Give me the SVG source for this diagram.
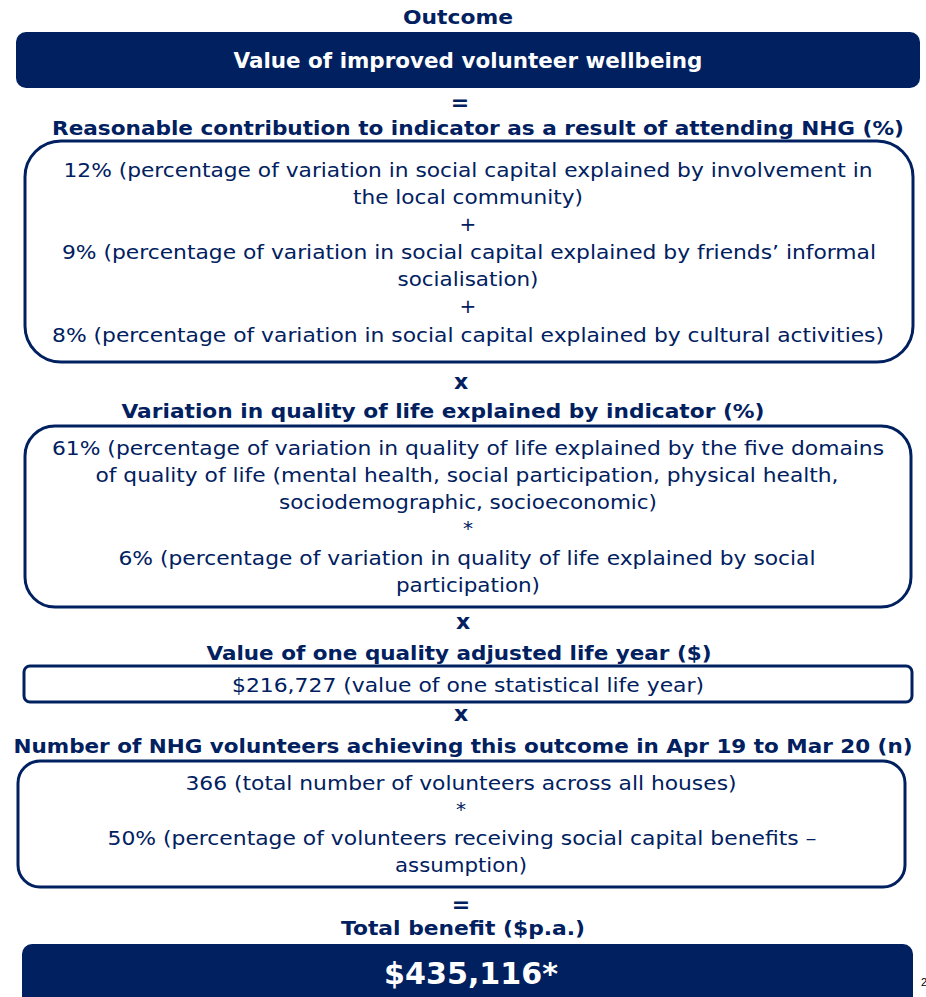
<svg xmlns="http://www.w3.org/2000/svg" width="926" height="997" viewBox="0 0 926 997">
<style>
text{font-family:"DejaVu Sans","Liberation Sans",sans-serif;fill:#002060;text-anchor:middle}
.h{font-weight:bold;font-size:20px}
.t{font-size:20px}
.op{font-weight:bold;font-size:22px}
.w{fill:#ffffff;font-weight:bold}
.box{fill:#ffffff;stroke:#002060;stroke-width:3}
.solid{fill:#002060}
</style>
<rect width="926" height="997" fill="#ffffff"/>
<g id="outcome">
<text class="h" x="458" y="24" textLength="110" lengthAdjust="spacingAndGlyphs">Outcome</text>
<rect class="solid" x="16" y="32" width="904" height="56" rx="10"/>
<text class="w" x="468" y="68" font-size="21" textLength="469" lengthAdjust="spacingAndGlyphs">Value of improved volunteer wellbeing</text>
</g>
<g id="connectors">
<text class="op" x="460" y="110">=</text>
<text class="op" x="461" y="389">x</text>
<text class="op" x="463" y="629">x</text>
<text class="op" x="461" y="721">x</text>
<text class="op" x="461" y="912">=</text>
</g>
<g id="contribution">
<text class="h" x="478" y="135" textLength="852" lengthAdjust="spacingAndGlyphs">Reasonable contribution to indicator as a result of attending NHG (%)</text>
<rect class="box" x="25" y="141" width="888" height="221" rx="36"/>
<text class="t" x="468" y="177" textLength="809" lengthAdjust="spacingAndGlyphs">12% (percentage of variation in social capital explained by involvement in</text>
<text class="t" x="468" y="204" textLength="230" lengthAdjust="spacingAndGlyphs">the local community)</text>
<text class="t" x="468" y="231">+</text>
<text class="t" x="469" y="259" textLength="814" lengthAdjust="spacingAndGlyphs">9% (percentage of variation in social capital explained by friends’ informal</text>
<text class="t" x="468" y="286" textLength="141" lengthAdjust="spacingAndGlyphs">socialisation)</text>
<text class="t" x="468" y="313">+</text>
<text class="t" x="468" y="342" textLength="832" lengthAdjust="spacingAndGlyphs">8% (percentage of variation in social capital explained by cultural activities)</text>
</g>
<g id="variation">
<text class="h" x="443" y="418" textLength="643" lengthAdjust="spacingAndGlyphs">Variation in quality of life explained by indicator (%)</text>
<rect class="box" x="25" y="426" width="886" height="181" rx="30"/>
<text class="t" x="468" y="455" textLength="832" lengthAdjust="spacingAndGlyphs">61% (percentage of variation in quality of life explained by the five domains</text>
<text class="t" x="467" y="482" textLength="743" lengthAdjust="spacingAndGlyphs">of quality of life (mental health, social participation, physical health,</text>
<text class="t" x="468" y="509" textLength="378" lengthAdjust="spacingAndGlyphs">sociodemographic, socioeconomic)</text>
<text class="t" x="468" y="535">*</text>
<text class="t" x="467" y="565" textLength="697" lengthAdjust="spacingAndGlyphs">6% (percentage of variation in quality of life explained by social</text>
<text class="t" x="468" y="592" textLength="144" lengthAdjust="spacingAndGlyphs">participation)</text>
</g>
<g id="qaly">
<text class="h" x="459" y="660" textLength="505" lengthAdjust="spacingAndGlyphs">Value of one quality adjusted life year ($)</text>
<rect class="box" x="24" y="666" width="888" height="36" rx="6"/>
<text class="t" x="468" y="692" textLength="472" lengthAdjust="spacingAndGlyphs">$216,727 (value of one statistical life year)</text>
</g>
<g id="volunteers">
<text class="h" x="463" y="753" textLength="899" lengthAdjust="spacingAndGlyphs">Number of NHG volunteers achieving this outcome in Apr 19 to Mar 20 (n)</text>
<rect class="box" x="18" y="761" width="887" height="126" rx="22"/>
<text class="t" x="461" y="790" textLength="551" lengthAdjust="spacingAndGlyphs">366 (total number of volunteers across all houses)</text>
<text class="t" x="461" y="816">*</text>
<text class="t" x="462" y="845" textLength="709" lengthAdjust="spacingAndGlyphs">50% (percentage of volunteers receiving social capital benefits –</text>
<text class="t" x="461" y="872" textLength="132" lengthAdjust="spacingAndGlyphs">assumption)</text>
</g>
<g id="total">
<text class="h" x="463" y="935" textLength="244" lengthAdjust="spacingAndGlyphs">Total benefit ($p.a.)</text>
<rect class="solid" x="22" y="944" width="891" height="70" rx="10"/>
<text class="w" x="471" y="984" font-size="31" textLength="174" lengthAdjust="spacingAndGlyphs">$435,116*</text>
</g>
<text x="924" y="986" font-size="11" style="fill:#000000;font-family:'Liberation Sans',sans-serif">2</text>
</svg>
